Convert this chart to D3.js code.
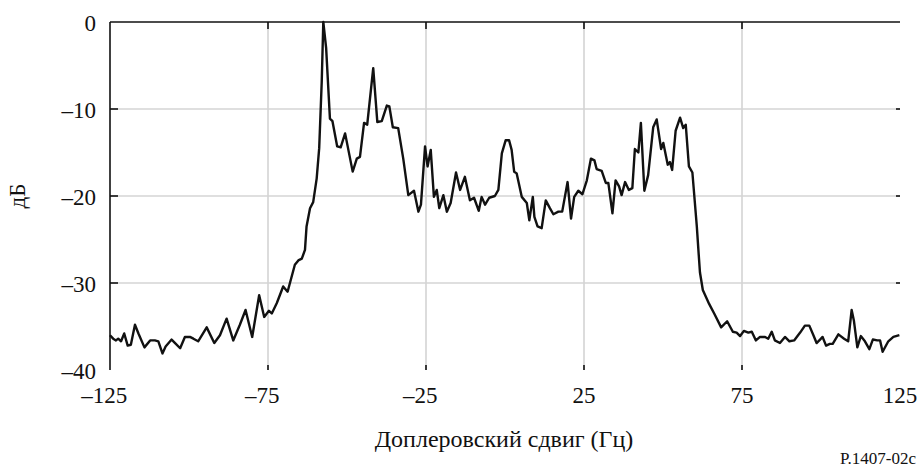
<!DOCTYPE html>
<html><head><meta charset="utf-8">
<script src="https://cdn.jsdelivr.net/npm/d3@7"></script>
<style>body{margin:0;background:#fff}svg{display:block}text{font-family:"Liberation Serif","DejaVu Serif",serif}</style>
</head><body>
<svg id="c" width="920" height="468"></svg>
<script>
const freqHz = [-125.0,-124.0,-123.1,-122.4,-121.5,-120.5,-119.4,-118.4,-117.1,-116.0,-114.1,-112.3,-110.8,-109.7,-108.4,-107.4,-105.5,-104.4,-102.8,-101.3,-99.7,-98.6,-97.1,-94.4,-92.0,-90.2,-88.1,-86.0,-83.9,-82.1,-80.0,-77.8,-76.2,-74.7,-73.8,-72.2,-70.2,-68.8,-66.5,-65.4,-64.3,-63.3,-62.8,-61.7,-60.7,-59.6,-58.8,-58.0,-57.5,-56.6,-55.4,-54.6,-53.1,-52.0,-50.6,-48.2,-46.9,-45.9,-44.6,-43.6,-41.7,-40.4,-39.0,-37.4,-36.6,-35.5,-33.8,-32.2,-30.6,-28.8,-27.4,-26.6,-25.3,-24.5,-23.5,-22.5,-21.6,-20.8,-19.5,-18.4,-17.2,-15.5,-14.2,-12.7,-11.1,-9.8,-8.3,-7.4,-6.3,-5.0,-3.2,-2.1,-1.0,0.2,1.3,2.1,2.9,3.7,5.3,6.9,7.7,8.8,9.3,10.3,11.6,12.9,14.2,15.3,16.9,18.1,19.8,20.9,21.9,23.2,24.5,25.9,27.2,28.3,29.0,30.6,31.9,32.7,34.0,35.0,36.1,36.9,38.0,39.2,40.3,41.1,42.2,43.0,44.1,45.3,46.9,48.0,49.4,50.1,51.5,52.2,52.9,54.0,55.4,56.4,57.2,58.2,59.3,60.7,61.2,61.7,62.6,64.6,66.2,68.4,70.3,72.1,73.3,74.4,75.6,77.0,78.1,79.4,80.7,82.3,83.3,84.4,85.4,87.0,88.6,90.0,91.5,93.4,94.9,96.3,97.6,98.6,99.7,100.5,101.6,102.8,103.7,105.5,107.3,108.6,109.7,110.4,111.5,112.6,113.9,115.3,116.4,117.8,118.7,119.5,121.3,122.9,124.8];
const levelDb = [-36.0,-36.4,-36.6,-36.4,-36.7,-35.8,-37.2,-37.1,-34.8,-35.8,-37.4,-36.6,-36.6,-36.7,-38.1,-37.3,-36.5,-36.9,-37.5,-36.2,-36.2,-36.4,-36.7,-35.1,-36.9,-36.0,-34.1,-36.6,-34.8,-33.1,-36.2,-31.4,-33.9,-33.2,-33.5,-32.3,-30.4,-31.0,-27.9,-27.4,-27.2,-26.2,-23.5,-21.4,-20.7,-18.0,-14.5,-6.9,0,-3.0,-11.1,-11.4,-14.3,-14.4,-12.8,-17.2,-15.7,-15.5,-11.6,-11.8,-5.3,-11.5,-11.4,-9.6,-9.7,-12.1,-12.2,-15.7,-19.9,-19.4,-21.8,-21.0,-14.3,-16.6,-14.7,-20.1,-19.3,-21.4,-19.9,-21.8,-20.8,-17.3,-19.3,-17.8,-20.5,-20.2,-21.7,-20.1,-21.0,-20.2,-20.0,-19.3,-15.1,-13.6,-13.6,-14.7,-17.2,-17.4,-20.1,-20.8,-22.8,-20.1,-22.4,-23.5,-23.7,-20.5,-21.4,-22.1,-21.8,-21.8,-18.4,-22.6,-20.1,-19.4,-19.8,-18.2,-15.7,-15.9,-16.9,-17.1,-18.5,-18.5,-22.0,-18.2,-18.9,-19.9,-18.4,-19.3,-19.1,-14.6,-15.0,-11.6,-19.4,-17.6,-12.1,-11.2,-14.6,-13.9,-16.4,-16.1,-17.0,-12.5,-11.0,-12.2,-11.8,-16.6,-17.3,-23.5,-26.2,-28.8,-30.8,-32.4,-33.5,-35.1,-34.4,-35.6,-35.7,-36.1,-35.5,-35.7,-35.6,-36.6,-36.2,-36.2,-36.4,-35.6,-36.6,-36.9,-36.2,-36.7,-36.6,-35.7,-34.9,-34.9,-36.0,-36.9,-36.5,-36.2,-37.2,-37.0,-37.0,-35.9,-36.4,-36.7,-33.1,-34.3,-37.4,-36.1,-36.7,-37.6,-36.5,-36.6,-36.6,-37.9,-36.7,-36.2,-36.0];
const xTicks = [-125,-75,-25,25,75,125];
const yTicks = [0,-10,-20,-30,-40];
const xGrid = [-75,-25,25,75];
const yGrid = [-10,-20,-30];
const xTitle = "Доплеровский сдвиг (Гц)";
const yTitle = "дБ";
const note = "P.1407-02c";

const svg = d3.select("#c");
const L = 110, R = 900, T = 22, B = 370;
const x = d3.scaleLinear().domain([-125,125]).range([L,R]);
const y = d3.scaleLinear().domain([-40,0]).range([B,T]);
const fmt = v => v < 0 ? "\u2013" + Math.abs(v) : String(v);

// grid
svg.append("g").selectAll("line").data(xGrid).join("line")
  .attr("x1", d=>x(d)).attr("x2", d=>x(d)).attr("y1", T).attr("y2", B)
  .attr("stroke", "#d4d4d4").attr("stroke-width", 1.6);
svg.append("g").selectAll("line").data(yGrid).join("line")
  .attr("x1", L).attr("x2", R).attr("y1", d=>y(d)).attr("y2", d=>y(d))
  .attr("stroke", "#d4d4d4").attr("stroke-width", 1.6);

// frame: top and left
svg.append("line").attr("x1", L).attr("x2", R).attr("y1", T).attr("y2", T)
  .attr("stroke", "#111").attr("stroke-width", 1.6);
svg.append("line").attr("x1", L).attr("x2", L).attr("y1", T).attr("y2", B)
  .attr("stroke", "#111").attr("stroke-width", 1.6);

// ticks
const tk = svg.append("g").attr("stroke", "#111").attr("stroke-width", 1.6);
tk.selectAll(".tt").data(xGrid).join("line").attr("x1", d=>x(d)).attr("x2", d=>x(d)).attr("y1", T).attr("y2", T+7);
tk.selectAll(".tb").data(xGrid).join("line").attr("x1", d=>x(d)).attr("x2", d=>x(d)).attr("y1", B-5).attr("y2", B);
tk.selectAll(".tl").data(yGrid).join("line").attr("x1", L).attr("x2", L+8).attr("y1", d=>y(d)).attr("y2", d=>y(d));
tk.selectAll(".tr").data(yGrid).join("line").attr("x1", R-4).attr("x2", R).attr("y1", d=>y(d)).attr("y2", d=>y(d));

// tick labels
svg.append("g").selectAll("text").data(xTicks).join("text")
  .attr("x", d=>x(d)).attr("y", 403)
  .attr("dx", d => d < 0 ? "-0.25em" : 0)
  .attr("text-anchor", "middle")
  .attr("font-size", 23).attr("fill", "#111")
  .text(fmt);
svg.append("g").selectAll("text").data(yTicks).join("text")
  .attr("x", 96).attr("y", d=>y(d) + 9)
  .attr("text-anchor", "end")
  .attr("font-size", 23).attr("fill", "#111")
  .text(fmt);

// data line
const line = d3.line().x((d,i)=>x(freqHz[i])).y(d=>y(d));
svg.append("path").datum(levelDb).attr("d", line)
  .attr("fill", "none").attr("stroke", "#111").attr("stroke-width", 2.4)
  .attr("stroke-linejoin", "round");

// titles
svg.append("text").attr("x", 504).attr("y", 447).attr("text-anchor", "middle")
  .attr("font-size", 24).attr("fill", "#111").text(xTitle);
svg.append("text").attr("transform", "translate(25,196) rotate(-90)").attr("text-anchor", "middle")
  .attr("font-size", 23).attr("fill", "#111").text(yTitle);
svg.append("text").attr("x", 916).attr("y", 464).attr("text-anchor", "end")
  .attr("font-size", 17).attr("fill", "#111").text(note);
</script>
</body></html>
